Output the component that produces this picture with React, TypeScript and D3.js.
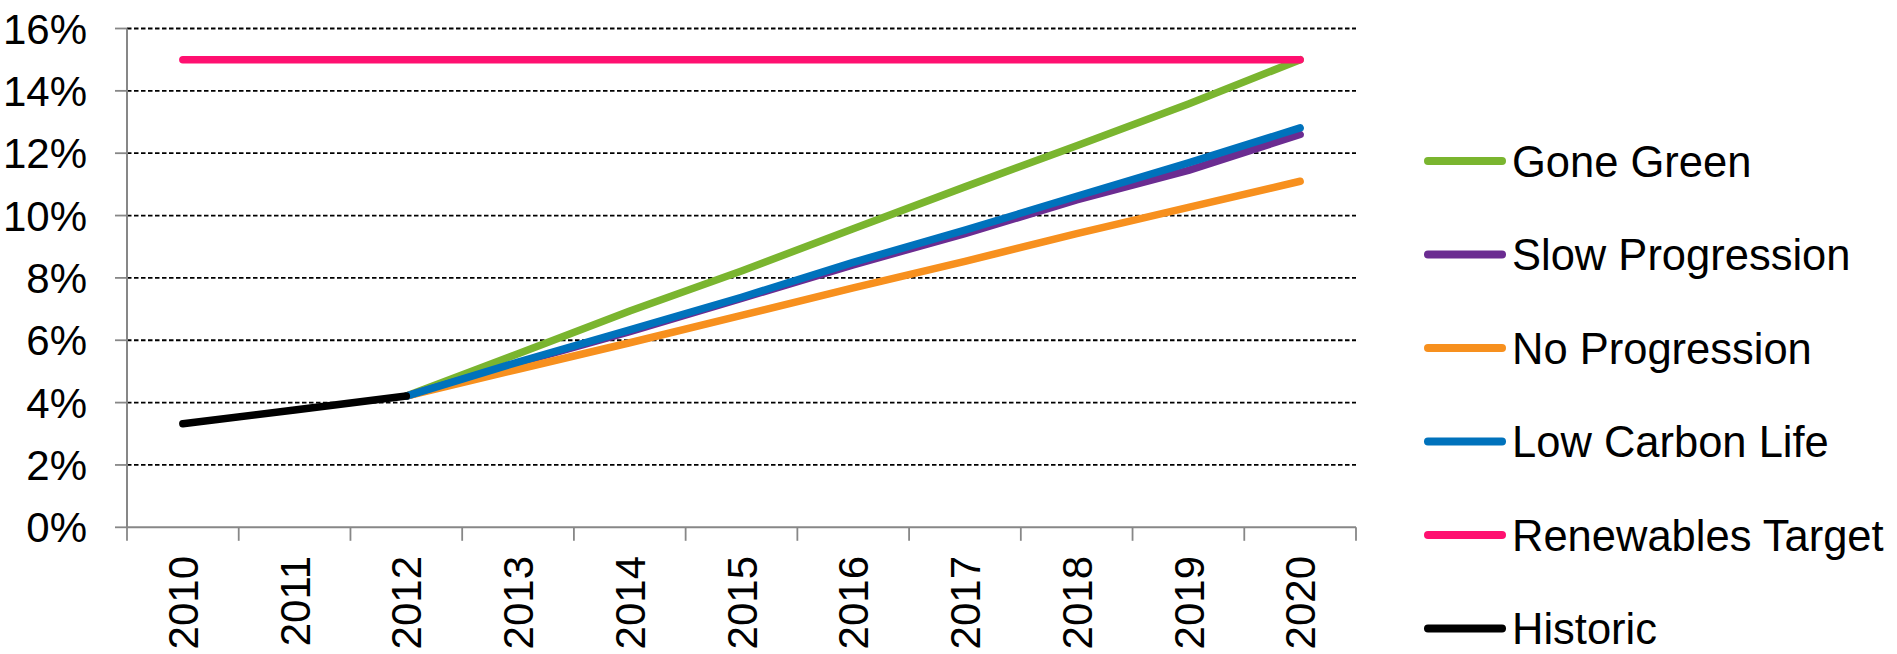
import React from "react";
import * as d3 from "d3";

const years = ["2010", "2011", "2012", "2013", "2014", "2015", "2016", "2017", "2018", "2019", "2020"];
const yTicks = [0, 2, 4, 6, 8, 10, 12, 14, 16];

const goneGreen = [null, null, 4.21, 5.57, 6.94, 8.22, 9.58, 10.92, 12.24, 13.58, 15.0];
const slowProgression = [null, null, 4.21, 5.27, 6.28, 7.34, 8.42, 9.42, 10.5, 11.45, 12.6];
const noProgression = [null, null, 4.21, 5.07, 5.92, 6.8, 7.68, 8.53, 9.42, 10.26, 11.1];
const lowCarbonLife = [null, null, 4.21, 5.3, 6.33, 7.38, 8.5, 9.53, 10.62, 11.69, 12.81];
const renewablesTarget = [15, 15, 15, 15, 15, 15, 15, 15, 15, 15, 15];
const historic = [3.32, 3.76, 4.21, null, null, null, null, null, null, null, null];

const seriesNames = ["Gone Green", "Slow Progression", "No Progression", "Low Carbon Life", "Renewables Target", "Historic"];
const seriesValues = [goneGreen, slowProgression, noProgression, lowCarbonLife, renewablesTarget, historic];
const seriesColors = ["#7AB52F", "#6B2C91", "#F7901E", "#0072BC", "#FF1070", "#000000"];

export default function App() {
  const W = 1897;
  const H = 654;
  const left = 127;
  const right = 1356;
  const top = 28.5;
  const bottom = 527.3;
  const font = "'Liberation Sans', Arial, sans-serif";
  const fs = 42;
  const legendFs = 43.5;

  const x = d3.scaleBand<string>().domain(years).range([left, right]).padding(0);
  const y = d3.scaleLinear().domain([0, 16]).range([bottom, top]);
  const cx = (i: number) => (x(years[i]) as number) + x.bandwidth() / 2;

  const line = d3
    .line<number | null>()
    .defined((d) => d !== null)
    .x((_, i) => cx(i))
    .y((d) => y(d as number));

  const legendY = d3.scalePoint<string>().domain(seriesNames).range([161, 628.5]);

  return (
    <svg width={W} height={H} style={{ position: "absolute", left: 0, top: 0, background: "#fff" }} fontFamily={font}>
      {yTicks.filter((t) => t > 0).map((t) => (
        <line key={"g" + t} x1={left} x2={right} y1={y(t)} y2={y(t)} stroke="#000" strokeWidth={1.8} strokeDasharray="4.5,2.5" />
      ))}
      {yTicks.map((t) => (
        <line key={"yt" + t} x1={left - 12} x2={left} y1={y(t)} y2={y(t)} stroke="#878787" strokeWidth={1.8} />
      ))}
      <line x1={left} x2={left} y1={top} y2={bottom} stroke="#878787" strokeWidth={2} />
      <line x1={left} x2={right} y1={bottom} y2={bottom} stroke="#878787" strokeWidth={2} />
      {years.map((yr) => (
        <line key={"xt" + yr} x1={x(yr) as number} x2={x(yr) as number} y1={bottom} y2={bottom + 13.5} stroke="#878787" strokeWidth={1.8} />
      ))}
      <line x1={right} x2={right} y1={bottom} y2={bottom + 13.5} stroke="#878787" strokeWidth={1.8} />
      {yTicks.map((t) => (
        <text key={"yl" + t} x={87} y={y(t)} dy="0.36em" textAnchor="end" fontSize={fs} fill="#000">
          {t + "%"}
        </text>
      ))}
      {years.map((yr, i) => (
        <text
          key={"xl" + yr}
          transform={`translate(${cx(i)},556) rotate(-90)`}
          dy="0.36em"
          textAnchor="end"
          fontSize={fs}
          fill="#000"
        >
          {yr}
        </text>
      ))}
      {seriesValues.map((vals, k) => (
        <path
          key={"s" + k}
          d={line(vals) || ""}
          fill="none"
          stroke={seriesColors[k]}
          strokeWidth={7.5}
          strokeLinecap="round"
          strokeLinejoin="round"
        />
      ))}
      {seriesNames.map((n, k) => (
        <g key={"lg" + n} transform={`translate(0,${legendY(n)})`}>
          <line x1={1428} x2={1502} y1={0} y2={0} stroke={seriesColors[k]} strokeWidth={8} strokeLinecap="round" />
          <text x={1512} y={0} dy="0.36em" fontSize={legendFs} fill="#000">
            {n}
          </text>
        </g>
      ))}
    </svg>
  );
}
